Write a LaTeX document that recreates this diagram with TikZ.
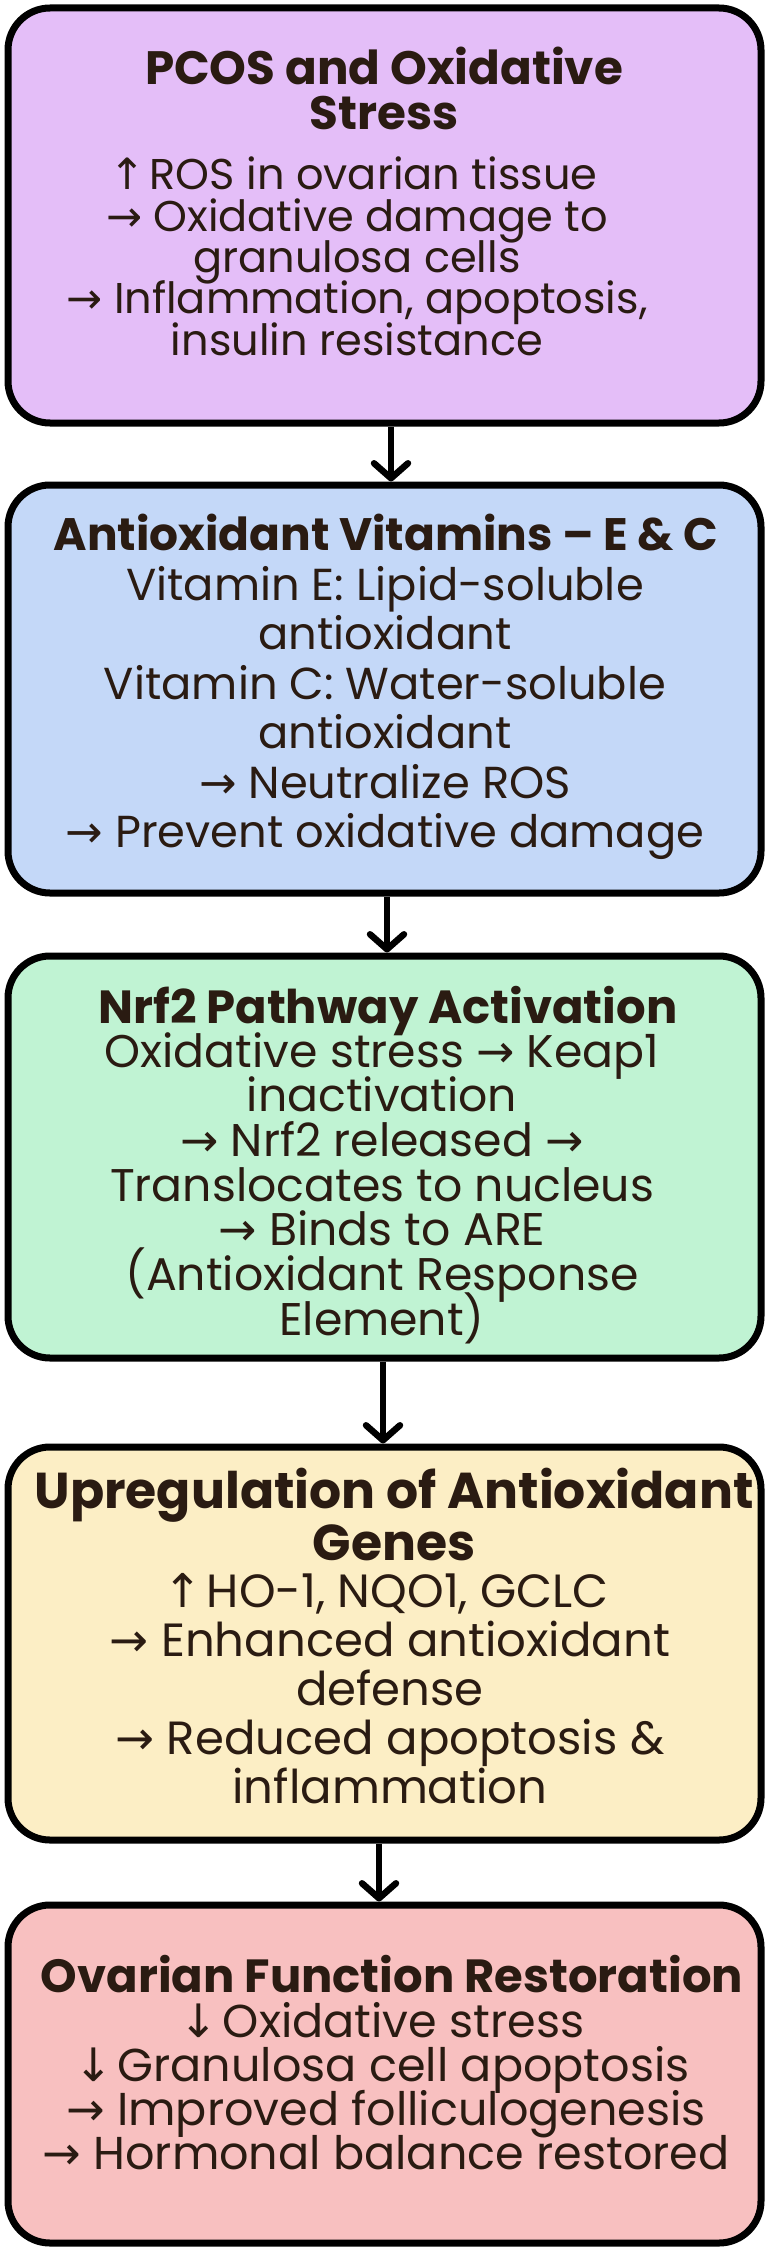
\documentclass[tikz,border=0pt]{standalone}
\usepackage{fontspec}
\setmainfont{Poppins}
\newfontfamily\arrowfont{DejaVu Sans}
\usetikzlibrary{arrows.meta}
\definecolor{txt}{HTML}{2A1B12}
\definecolor{fillA}{HTML}{E4BEF8}
\definecolor{fillB}{HTML}{C4D8F8}
\definecolor{fillC}{HTML}{C0F3D3}
\definecolor{fillD}{HTML}{FCEEC5}
\definecolor{fillE}{HTML}{F8C0C0}
\newlength\wtmp
\newcommand\fitfont[3]{\settowidth\wtmp{\fontsize{40pt}{40pt}\selectfont #2}\pgfmathsetmacro#1{#3/\wtmp*40}}
\newcommand\fsz[1]{\fontsize{#1pt}{#1pt}\selectfont}
\newcommand\ra{{\arrowfont →}}
\newcommand\ua{\makebox[0.5em]{\arrowfont ↑}}
\newcommand\da{\makebox[0.5em]{\arrowfont ↓}}
\tikzset{
  box/.style={draw=black, line width=7pt, rounded corners=42pt, minimum width=753pt, inner sep=0pt},
  flow/.style={draw=black, line width=6.5pt, -{Straight Barb[length=15pt,width=34pt,round]}},
  ttl/.style={anchor=base, text=txt, inner sep=0pt},
  bdy/.style={anchor=base, text=txt, inner sep=0pt},
}
\begin{document}
\fitfont\fAt{\bfseries PCOS and Oxidative}{478}
\fitfont\fAb{insulin resistance}{372}
\fitfont\fBt{\bfseries Antioxidant Vitamins – E \& C}{665}
\fitfont\fBb{Vitamin C: Water-soluble}{562}
\fitfont\fCt{\bfseries Nrf2 Pathway Activation}{579}
\fitfont\fCb{Translocates to nucleus}{544}
\fitfont\fDt{\bfseries Upregulation of Antioxidant}{719}
\fitfont\fDb{inflammation}{315}
\fitfont\fEt{\bfseries Ovarian Function Restoration}{702}
\fitfont\fEb{\ra{} Hormonal balance restored}{687}
\begin{tikzpicture}[x=1pt,y=-1pt]
\useasboundingbox (0,0) rectangle (768,2250);
\fill[white] (0,0) rectangle (768,2250);
% boxes
\node[box, fill=fillA, minimum height=415pt] (b1) at (384.5,215.5) {};
\node[box, fill=fillB, minimum height=408pt] (b2) at (384.5,689) {};
\node[box, fill=fillC, minimum height=402pt] (b3) at (384.5,1157) {};
\node[box, fill=fillD, minimum height=393pt] (b4) at (384.5,1643.5) {};
\node[box, fill=fillE, minimum height=338pt] (b5) at (384.5,2074) {};
% connectors
\coordinate (a1) at (391,0);
\coordinate (a2) at (387,0);
\coordinate (a3) at (383,0);
\coordinate (a4) at (379,0);
\draw[flow] (b1.south -| a1) -- (b2.north -| a1);
\draw[flow] (b2.south -| a2) -- (b3.north -| a2);
\draw[flow] (b3.south -| a3) -- (b4.north -| a3);
\draw[flow] (b4.south -| a4) -- (b5.north -| a4);
% box 1
\node[ttl, font=\fsz{\fAt}\bfseries] (t1a) at (384,85) {PCOS and Oxidative};
\node[ttl, font=\fsz{\fAt}\bfseries] (t1b) at (384,130) {Stress};
\foreach \t [count=\i] in {{\ua{} ROS in ovarian tissue},{\ra{} Oxidative damage to},{granulosa cells},{\ra{} Inflammation, apoptosis,},{insulin resistance}}
  \node[bdy, font=\fsz{\fAb}] (b1l\i) at (357,{190+41.25*(\i-1)}) {\t};
% box 2
\node[ttl, font=\fsz{\fBt}\bfseries] (t2a) at (386,550) {Antioxidant Vitamins – E \& C};
\foreach \t [count=\i] in {{Vitamin E: Lipid-soluble},{antioxidant},{Vitamin C: Water-soluble},{antioxidant},{\ra{} Neutralize ROS},{\ra{} Prevent oxidative damage}}
  \node[bdy, font=\fsz{\fBb}] (b2l\i) at (385,{600+49.5*(\i-1)}) {\t};
% box 3
\node[ttl, font=\fsz{\fCt}\bfseries] (t3a) at (388,1023) {Nrf2 Pathway Activation};
\foreach \t [count=\i] in {{Oxidative stress \ra{} Keap1},{inactivation},{\ra{} Nrf2 released \ra},{Translocates to nucleus},{\ra{} Binds to ARE},{(Antioxidant Response},{Element)}}
  \node[bdy, font=\fsz{\fCb}] (b3l\i) at (382,{1067+44.7*(\i-1)}) {\t};
% box 4
\node[ttl, font=\fsz{\fDt}\bfseries] (t4a) at (394,1508) {Upregulation of Antioxidant};
\node[ttl, font=\fsz{\fDt}\bfseries] (t4b) at (394,1560) {Genes};
\foreach \t [count=\i] in {{\ua{} HO-1, NQO1, GCLC},{\ra{} Enhanced antioxidant},{defense},{\ra{} Reduced apoptosis \&},{inflammation}}
  \node[bdy, font=\fsz{\fDb}] (b4l\i) at (390,{1607+49*(\i-1)}) {\t};
% box 5
\node[ttl, font=\fsz{\fEt}\bfseries] (t5a) at (392,1992) {Ovarian Function Restoration};
\foreach \t [count=\i] in {{\da{} Oxidative stress},{\da{} Granulosa cell apoptosis},{\ra{} Improved folliculogenesis},{\ra{} Hormonal balance restored}}
  \node[bdy, font=\fsz{\fEb}] (b5l\i) at (386,{2037+44.3*(\i-1)}) {\t};
\end{tikzpicture}
\end{document}
